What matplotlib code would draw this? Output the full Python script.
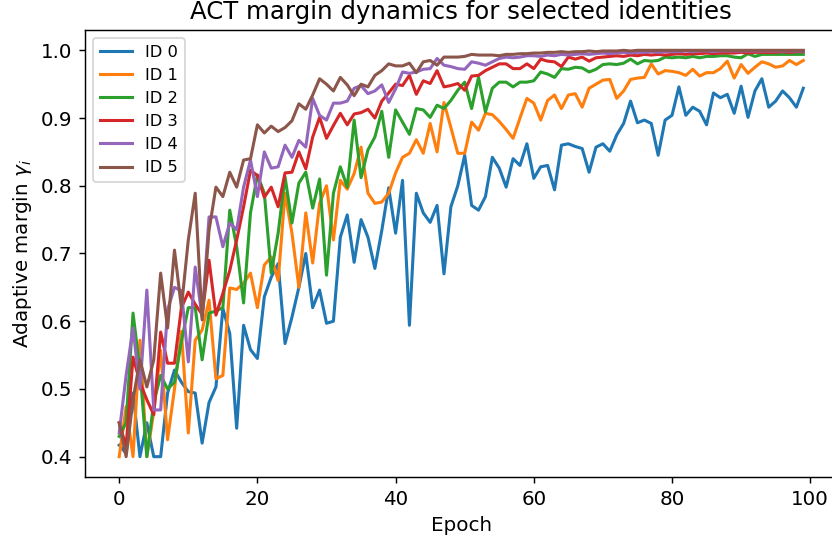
import numpy as np
import matplotlib
matplotlib.use("Agg")
import matplotlib.pyplot as plt

epochs = np.arange(100)

id0 = [0.417, 0.405, 0.494, 0.400, 0.450, 0.400, 0.400, 0.494, 0.528, 0.510,
       0.496, 0.494, 0.420, 0.480, 0.503, 0.619, 0.582, 0.442, 0.594, 0.558,
       0.545, 0.636, 0.665, 0.685, 0.567, 0.606, 0.650, 0.700, 0.620, 0.646,
       0.597, 0.600, 0.724, 0.757, 0.687, 0.750, 0.724, 0.678, 0.734, 0.797,
       0.730, 0.808, 0.594, 0.789, 0.760, 0.746, 0.771, 0.670, 0.769, 0.800,
       0.845, 0.771, 0.764, 0.784, 0.842, 0.826, 0.798, 0.840, 0.830, 0.862,
       0.811, 0.828, 0.830, 0.794, 0.860, 0.862, 0.858, 0.855, 0.820, 0.857,
       0.862, 0.851, 0.875, 0.892, 0.925, 0.893, 0.897, 0.892, 0.845, 0.897,
       0.904, 0.946, 0.904, 0.916, 0.910, 0.890, 0.937, 0.930, 0.935, 0.907,
       0.947, 0.901, 0.940, 0.958, 0.916, 0.925, 0.940, 0.930, 0.916, 0.944]

id1 = [0.400, 0.474, 0.400, 0.572, 0.400, 0.466, 0.557, 0.425, 0.500, 0.585,
       0.435, 0.572, 0.587, 0.631, 0.515, 0.520, 0.649, 0.647, 0.656, 0.671,
       0.620, 0.683, 0.695, 0.660, 0.789, 0.730, 0.650, 0.760, 0.686, 0.774,
       0.800, 0.720, 0.808, 0.795, 0.818, 0.857, 0.789, 0.774, 0.776, 0.789,
       0.819, 0.842, 0.848, 0.868, 0.848, 0.892, 0.850, 0.923, 0.886, 0.848,
       0.848, 0.894, 0.882, 0.907, 0.905, 0.895, 0.883, 0.870, 0.900, 0.929,
       0.922, 0.897, 0.926, 0.934, 0.914, 0.934, 0.936, 0.916, 0.944, 0.950,
       0.956, 0.957, 0.929, 0.940, 0.957, 0.959, 0.960, 0.980, 0.965, 0.970,
       0.969, 0.967, 0.963, 0.972, 0.962, 0.967, 0.967, 0.973, 0.984, 0.959,
       0.979, 0.966, 0.975, 0.983, 0.980, 0.975, 0.977, 0.985, 0.979, 0.985]

id2 = [0.430, 0.450, 0.612, 0.528, 0.400, 0.480, 0.520, 0.500, 0.510, 0.570,
       0.620, 0.620, 0.543, 0.612, 0.615, 0.620, 0.764, 0.710, 0.627, 0.760,
       0.816, 0.789, 0.671, 0.730, 0.813, 0.745, 0.804, 0.820, 0.767, 0.810,
       0.668, 0.789, 0.828, 0.798, 0.897, 0.812, 0.853, 0.872, 0.910, 0.842,
       0.912, 0.894, 0.876, 0.914, 0.912, 0.901, 0.919, 0.914, 0.926, 0.941,
       0.953, 0.914, 0.960, 0.909, 0.944, 0.953, 0.953, 0.946, 0.953, 0.953,
       0.955, 0.968, 0.965, 0.960, 0.973, 0.972, 0.975, 0.974, 0.968, 0.972,
       0.979, 0.980, 0.979, 0.981, 0.987, 0.980, 0.985, 0.984, 0.985, 0.990,
       0.989, 0.990, 0.989, 0.991, 0.989, 0.991, 0.991, 0.992, 0.992, 0.990,
       0.989, 0.995, 0.991, 0.994, 0.994, 0.994, 0.994, 0.994, 0.994, 0.994]

id3 = [0.450, 0.415, 0.547, 0.510, 0.484, 0.462, 0.584, 0.538, 0.538, 0.620,
       0.643, 0.625, 0.610, 0.690, 0.609, 0.641, 0.675, 0.720, 0.769, 0.823,
       0.815, 0.783, 0.798, 0.769, 0.819, 0.820, 0.850, 0.825, 0.872, 0.901,
       0.870, 0.889, 0.907, 0.890, 0.906, 0.908, 0.913, 0.900, 0.925, 0.937,
       0.950, 0.948, 0.963, 0.935, 0.955, 0.951, 0.970, 0.946, 0.948, 0.951,
       0.941, 0.962, 0.963, 0.970, 0.975, 0.980, 0.980, 0.973, 0.973, 0.980,
       0.973, 0.987, 0.984, 0.983, 0.976, 0.990, 0.987, 0.990, 0.984, 0.989,
       0.990, 0.991, 0.992, 0.991, 0.993, 0.992, 0.994, 0.993, 0.994, 0.993,
       0.994, 0.995, 0.994, 0.995, 0.995, 0.996, 0.995, 0.996, 0.996, 0.996,
       0.997, 0.996, 0.997, 0.997, 0.997, 0.997, 0.998, 0.997, 0.998, 0.998]

id4 = [0.435, 0.520, 0.590, 0.500, 0.646, 0.469, 0.469, 0.617, 0.650, 0.645,
       0.540, 0.680, 0.606, 0.754, 0.754, 0.710, 0.745, 0.735, 0.798, 0.838,
       0.784, 0.850, 0.826, 0.828, 0.860, 0.842, 0.867, 0.857, 0.929, 0.904,
       0.897, 0.922, 0.922, 0.925, 0.944, 0.948, 0.936, 0.940, 0.949, 0.923,
       0.943, 0.968, 0.966, 0.968, 0.972, 0.973, 0.988, 0.978, 0.976, 0.973,
       0.972, 0.983, 0.981, 0.978, 0.983, 0.988, 0.990, 0.989, 0.990, 0.992,
       0.992, 0.991, 0.993, 0.992, 0.994, 0.993, 0.994, 0.995, 0.994, 0.995,
       0.996, 0.995, 0.996, 0.997, 0.996, 0.997, 0.997, 0.998, 0.997, 0.998,
       0.998, 0.998, 0.999, 0.998, 0.999, 0.999, 0.998, 0.999, 0.999, 0.999,
       0.999, 0.999, 0.999, 0.999, 0.999, 0.999, 0.999, 0.999, 0.999, 0.999]

id5 = [0.450, 0.400, 0.484, 0.543, 0.503, 0.543, 0.671, 0.590, 0.705, 0.620,
       0.720, 0.789, 0.602, 0.734, 0.798, 0.784, 0.820, 0.798, 0.838, 0.840,
       0.890, 0.878, 0.888, 0.880, 0.886, 0.896, 0.921, 0.913, 0.934, 0.958,
       0.950, 0.940, 0.960, 0.949, 0.933, 0.950, 0.946, 0.963, 0.970, 0.980,
       0.977, 0.977, 0.981, 0.967, 0.983, 0.985, 0.978, 0.990, 0.990, 0.990,
       0.991, 0.994, 0.993, 0.993, 0.993, 0.992, 0.994, 0.994, 0.995, 0.995,
       0.996, 0.996, 0.997, 0.997, 0.998, 0.997, 0.998, 0.998, 0.999, 0.998,
       0.999, 0.999, 0.999, 1.000, 0.999, 1.000, 1.000, 1.000, 1.000, 1.000,
       1.000, 1.000, 1.000, 1.000, 1.000, 1.000, 1.000, 1.000, 1.000, 1.000,
       1.000, 1.000, 1.000, 1.000, 1.000, 1.000, 1.000, 1.000, 1.000, 1.000]

series = [id0, id1, id2, id3, id4, id5]
labels = ["ID 0", "ID 1", "ID 2", "ID 3", "ID 4", "ID 5"]

fig = plt.figure(figsize=(6.4, 543 / 130), dpi=130)
ax = fig.add_axes([85 / 832, 66 / 543, 752.5 / 832, 447 / 543])

for vals, lab in zip(series, labels):
    ax.plot(epochs, vals, label=lab, linewidth=1.7)

ax.tick_params(labelsize=11)
ax.set_xlabel("Epoch", fontsize=11)
ax.set_ylabel(r"Adaptive margin $\gamma_i$", fontsize=11)
ax.set_title("ACT margin dynamics for selected identities", fontsize=13.5)
ax.legend(loc="upper left", fontsize=9)

fig.savefig("out.png", dpi=130)
